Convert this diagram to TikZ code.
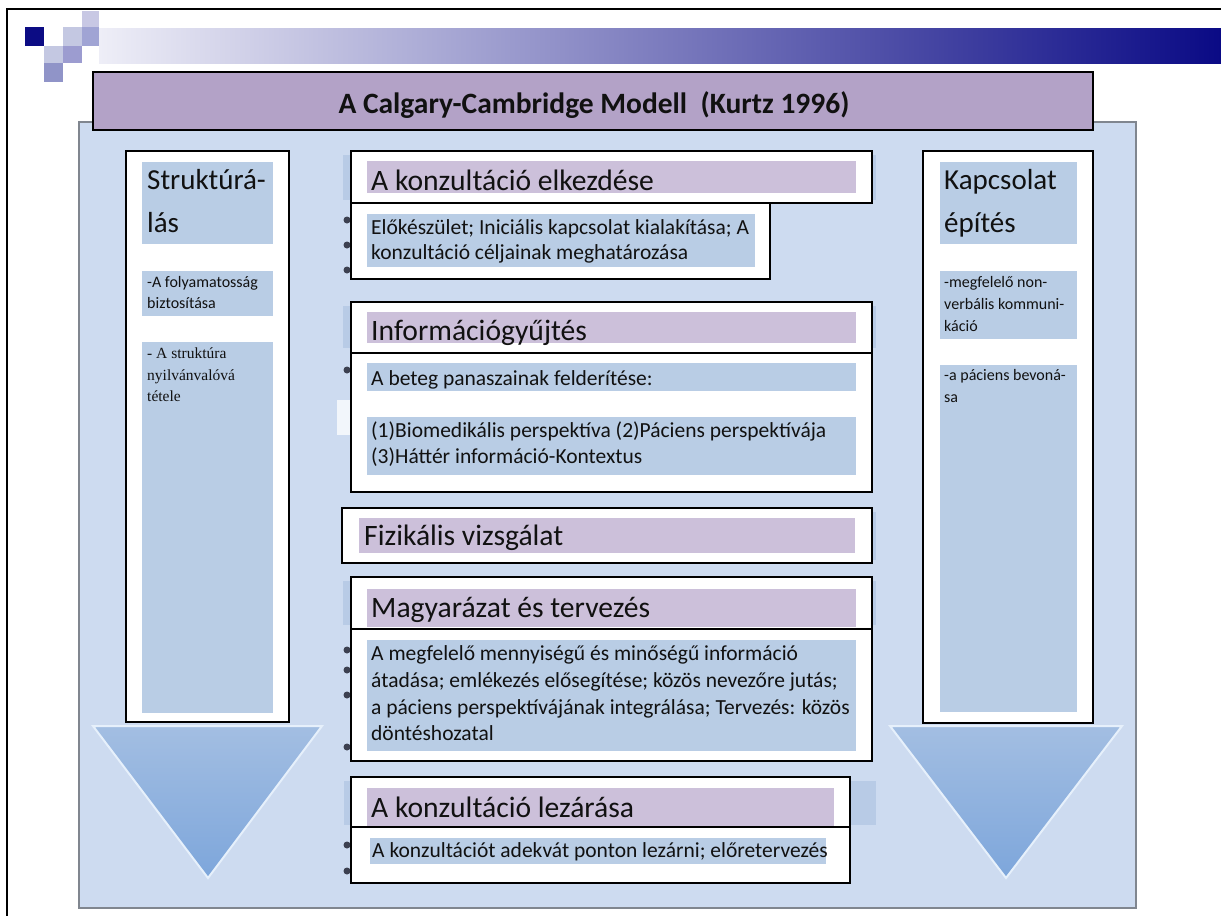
\documentclass[tikz,border=0pt]{standalone}
\usepackage{fontspec}
\setmainfont{Carlito}
\newfontfamily\tnr{Liberation Serif}
\usetikzlibrary{fit}
\definecolor{panelc}{HTML}{CDDBF0}
\definecolor{panelb}{HTML}{80868F}
\definecolor{titlec}{HTML}{B3A2C7}
\definecolor{purp}{HTML}{CCC0DA}
\definecolor{bluet}{HTML}{B9CDE5}
\definecolor{ghost}{HTML}{B8CBE6}
\definecolor{trit}{HTML}{A3BEE2}
\definecolor{trib}{HTML}{7DA6DB}
\definecolor{trie}{HTML}{E6F0FB}
\definecolor{navy}{HTML}{0C0C84}
\definecolor{sqa}{HTML}{C8C8E4}
\definecolor{sqb}{HTML}{C4C8E2}
\definecolor{sqc}{HTML}{A0A4D4}
\definecolor{sqd}{HTML}{9C9CD0}
\definecolor{sqe}{HTML}{9094C8}
\definecolor{barl}{HTML}{EEEEF7}
\definecolor{barm}{HTML}{ABABD8}
\definecolor{barr}{HTML}{0A0A85}
\definecolor{dotc}{HTML}{3C4050}
\definecolor{txt}{HTML}{111111}
\newcommand\fhd{\fontsize{29.6}{35}\selectfont}
\newcommand\fbody{\fontsize{21.5}{26}\selectfont}
\newcommand\fside{\fontsize{29}{35}\selectfont}
\newcommand\fsm{\fontsize{16}{19}\selectfont}
\newcommand\ftnr{\tnr\fontsize{15.5}{18}\selectfont}
\tikzset{
  wbox/.style={draw=black, line width=2pt, fill=white, inner sep=0pt},
  pfill/.style={fill=purp, inner sep=0pt},
  bfill/.style={fill=bluet, inner sep=0pt},
  gfill/.style={fill=ghost, inner sep=0pt},
  sq/.style={inner sep=0pt},
  lbl/.style={anchor=base west, inner sep=0pt, text=txt},
  tri/.style={top color=trit, bottom color=trib, draw=trie, line width=2pt, line join=miter},
  dot/.style={circle, fill=dotc, inner sep=0pt, minimum size=7pt},
}
\begin{document}
\begin{tikzpicture}[x=1pt,y=-1pt]
\useasboundingbox (0,0) rectangle (1221,916);
\fill[white] (0,0) rectangle (1221,916);
% frame
\coordinate (fa) at (1221,9);
\coordinate (fb) at (7,9);
\coordinate (fc) at (7,916);
\draw[line width=1.6pt] (fa) -- (fb) -- (fc);
% header decoration
\shade[left color=barl, middle color=barm, right color=barr] (99,28) rectangle (1221,63);
\node[sq, fill=navy, fit={(25,27) (44,46)}] (s1) {};
\node[sq, fill=sqa, fit={(82,11) (99,27)}] (s2) {};
\node[sq, fill=sqb, fit={(63,27) (82,46)}] (s3) {};
\node[sq, fill=sqc, fit={(82,27) (99,46)}] (s4) {};
\node[sq, fill=sqb, fit={(44,46) (63,63)}] (s5) {};
\node[sq, fill=sqd, fit={(63,46) (82,63)}] (s6) {};
\node[sq, fill=sqe, fit={(44,63) (63,82)}] (s7) {};
% panel
\node[fill=panelc, draw=panelb, line width=2pt, inner sep=0pt, fit={(79,122) (1136,908)}] (panel) {};
% title
\node[fill=titlec, draw=black, line width=2pt, inner sep=0pt, fit={(93,72) (1093,130)}] (title) {};
\node[font=\bfseries\fontsize{29.5}{34}\selectfont, text=txt, anchor=base] (titlet) at (594,113) {A Calgary-Cambridge Modell\ \ (Kurtz 1996)};
% ghost elements behind centre boxes
\node[gfill, fit={(343,155) (876,200)}] (g1) {};
\node[gfill, fit={(343,306) (876,348)}] (g2) {};
\node[gfill, fit={(343,512) (876,560)}] (g3) {};
\node[gfill, fit={(343,581) (876,625)}] (g4) {};
\node[gfill, fit={(344,781) (876,825)}] (g5) {};
\node[fill=white!75!panelc, inner sep=0pt, fit={(337,400) (352,435)}] (g6) {};
\foreach \yy [count=\i] in {220,245,270,370,650,670,695,747,845,871}
  \node[dot] (d\i) at (347,\yy) {};
% triangles
\draw[tri] (93,726) -- (322,726) -- (208,878) -- cycle;
\draw[tri] (890,726) -- (1122,726) -- (1006,878) -- cycle;
% left column
\node[wbox, fit={(126,151) (289,722)}] (lbox) {};
\node[bfill, fit={(142,162) (273,244)}] (lq1) {};
\node[bfill, fit={(142,271) (273,316)}] (lq2) {};
\node[bfill, fit={(142,342) (273,713)}] (lq3) {};
\node[lbl, font=\fside] (lt1) at (147,189) {Struktúrá-};
\node[lbl, font=\fside] (lt2) at (147,232) {lás};
\node[lbl, font=\fsm] (lt3) at (147,287) {-A folyamatosság};
\node[lbl, font=\fsm] (lt4) at (147,308) {biztosítása};
\node[lbl, font=\ftnr] (lt5) at (147,358) {- A struktúra};
\node[lbl, font=\ftnr] (lt6) at (147,380) {nyilvánvalóvá};
\node[lbl, font=\ftnr] (lt7) at (147,401) {tétele};
% right column
\node[wbox, fit={(923,151) (1093,723)}] (rbox) {};
\node[bfill, fit={(940,162) (1077,244)}] (rq1) {};
\node[bfill, fit={(940,271) (1077,339)}] (rq2) {};
\node[bfill, fit={(940,365) (1077,712)}] (rq3) {};
\node[lbl, font=\fside] (rt1) at (944,189) {Kapcsolat};
\node[lbl, font=\fside] (rt2) at (944,232) {építés};
\node[lbl, font=\fsm] (rt3) at (944,287) {-megfelelő non-};
\node[lbl, font=\fsm] (rt4) at (944,309) {verbális kommuni-};
\node[lbl, font=\fsm] (rt5) at (944,331) {káció};
\node[lbl, font=\fsm] (rt6) at (944,380) {-a páciens bevoná-};
\node[lbl, font=\fsm] (rt7) at (944,402) {sa};
% centre: 1
\node[wbox, fit={(351,151) (872,203)}] (h1) {};
\node[pfill, fit={(367,161) (856,193)}] (p1) {};
\node[wbox, fit={(351,203) (770,279)}] (b1) {};
\node[bfill, fit={(367,214) (755,267)}] (q1) {};
\node[lbl, font=\fhd] (h1t) at (371,190) {A konzultáció elkezdése};
\node[lbl, font=\fbody] (b1t1) at (371,234) {Előkészület; Iniciális kapcsolat kialakítása; A};
\node[lbl, font=\fbody] (b1t2) at (371,259) {konzultáció céljainak meghatározása};
% centre: 2
\node[wbox, fit={(351,302) (872,353)}] (h2) {};
\node[pfill, fit={(367,312) (856,343)}] (p2) {};
\node[wbox, fit={(351,353) (872,492)}] (b2) {};
\node[bfill, fit={(367,363) (856,391)}] (q2a) {};
\node[bfill, fit={(367,417) (856,475)}] (q2b) {};
\node[lbl, font=\fhd] (h2t) at (371,340) {Információgyűjtés};
\node[lbl, font=\fbody] (b2t1) at (371,385) {A beteg panaszainak felderítése:};
\node[lbl, font=\fbody] (b2t2) at (371,437) {(1)Biomedikális perspektíva (2)Páciens perspektívája};
\node[lbl, font=\fbody] (b2t3) at (371,463) {(3)Háttér információ-Kontextus};
% centre: 3
\node[wbox, fit={(342,508) (872,563)}] (h3) {};
\node[pfill, fit={(359,518) (855,553)}] (p3) {};
\node[lbl, font=\fhd] (h3t) at (364,545) {Fizikális vizsgálat};
% centre: 4
\node[wbox, fit={(351,577) (872,629)}] (h4) {};
\node[pfill, fit={(367,589) (856,627)}] (p4) {};
\node[wbox, fit={(351,629) (872,761)}] (b4) {};
\node[bfill, fit={(367,640) (856,751)}] (q4) {};
\node[lbl, font=\fhd] (h4t) at (371,617) {Magyarázat és tervezés};
\node[lbl, font=\fbody] (b4t1) at (371,660) {A megfelelő mennyiségű és minőségű információ};
\node[lbl, font=\fbody] (b4t2) at (371,687) {átadása; emlékezés elősegítése; közös nevezőre jutás;};
\node[lbl, font=\fbody] (b4t3) at (371,714) {a páciens perspektívájának integrálása; Tervezés: közös};
\node[lbl, font=\fbody] (b4t4) at (371,740) {döntéshozatal};
% centre: 5
\node[wbox, fit={(351,777) (850,827)}] (h5) {};
\node[pfill, fit={(367,788) (834,826)}] (p5) {};
\node[wbox, fit={(351,827) (850,883)}] (b5) {};
\node[bfill, fit={(370,838) (826,864)}] (q5) {};
\node[lbl, font=\fhd] (h5t) at (371,817) {A konzultáció lezárása};
\node[lbl, font=\fbody] (b5t) at (372,857) {A konzultációt adekvát ponton lezárni; előretervezés};
\end{tikzpicture}
\end{document}
